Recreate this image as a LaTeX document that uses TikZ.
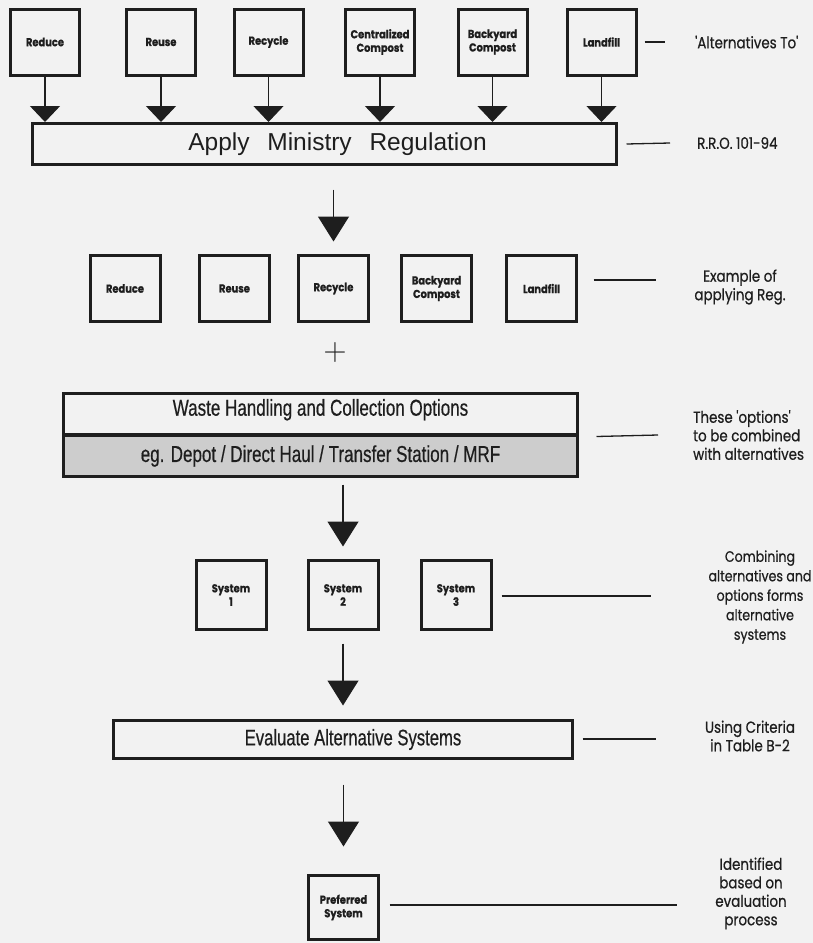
\documentclass[tikz,border=0pt]{standalone}
\usepackage{fontspec}
\setmainfont{Liberation Sans}
\newfontfamily\narrowfont[FakeStretch=0.74,FakeBold=0.5]{Liberation Sans}
\newfontfamily\labfont[FakeStretch=0.84,FakeBold=0.6]{Poppins}
\newfontfamily\boxfont[FakeStretch=0.86,FakeBold=0.8]{Poppins}
\usetikzlibrary{arrows.meta}
\definecolor{bg}{HTML}{F2F2F2}
\definecolor{ink}{HTML}{1E1E1E}
\definecolor{shade}{HTML}{CDCDCD}
\begin{document}
\begin{tikzpicture}[x=1pt,y=-1pt,
  box/.style={draw=ink,line width=3pt,inner sep=0pt,align=center,text=ink},
  sbox/.style={box,minimum width=69pt,minimum height=66pt,font=\boxfont\bfseries\fontsize{11.5}{13.5}\selectfont},
  lab/.style={text=ink,font=\labfont\fontsize{16}{18.5}\selectfont,inner sep=0pt,align=center},
  conn/.style={draw=ink,line width=1.3pt},
  arrsmall/.style={conn,-{Triangle[width=30pt,length=16pt]}},
  arrbig/.style={conn,-{Triangle[width=31pt,length=25pt]}}]
\fill[bg] (0,0) rectangle (813,943);
\useasboundingbox (0,0) rectangle (813,943);

% top row
\node[sbox] (t1) at (45,42) {Reduce};
\node[sbox] (t2) at (161,42) {Reuse};
\node[sbox] (t3) at (268.5,42) {Recycle};
\node[sbox] (t4) at (380,42) {Centralized\\Compost};
\node[sbox] (t5) at (492.5,42) {Backyard\\Compost};
\node[sbox] (t6) at (601.5,42) {Landfill};

\node[box,minimum width=584pt,minimum height=41pt,font=\fontsize{24.5}{28}\selectfont] (apply) at (324.5,144) {\hspace*{26pt}Apply\hspace{11pt} Ministry\hspace{11pt} Regulation};

\foreach \n in {t1,t2,t3,t4,t5,t6}
  \draw[arrsmall] (\n.south) -- (\n.south |- apply.north);

% second row
\node[sbox,minimum width=70pt] (r1) at (125,288.5) {Reduce};
\node[sbox,minimum width=70pt] (r2) at (234.5,288.5) {Reuse};
\node[sbox,minimum width=70pt] (r3) at (333.5,288.5) {Recycle};
\node[sbox,minimum width=70pt] (r4) at (436.5,288.5) {Backyard\\Compost};
\node[sbox,minimum width=70pt] (r5) at (541.5,288.5) {Landfill};

\draw[arrbig,shorten <=23.5pt,shorten >=12.5pt] (apply.south -| r3.north) -- (r3.north);

\node[text=ink,inner sep=0pt,font=\sffamily\fontsize{32}{32}\selectfont] (plus) at (335,353) {+};

% waste handling
\node[box,minimum width=514pt,minimum height=40.5pt,font=\narrowfont\fontsize{23}{27}\selectfont] (wtop) at (320.5,413.75) {\raisebox{4pt}[\height][\depth]{Waste Handling and Collection Options}};
\node[box,fill=shade,minimum width=514pt,minimum height=41pt,font=\narrowfont\fontsize{23}{27}\selectfont] (wbot) at (320.5,456) {eg. Depot / Direct Haul / Transfer Station / MRF};

% systems
\node[sbox,minimum width=70pt,minimum height=69pt] (s1) at (231,595) {System\\1};
\node[sbox,minimum width=70pt,minimum height=69pt] (s2) at (343,595) {System\\2};
\node[sbox,minimum width=70pt,minimum height=69pt] (s3) at (456,595) {System\\3};

\draw[arrbig,shorten <=6.5pt,shorten >=12.5pt] (wbot.south -| s2.north) -- (s2.north);

\node[box,minimum width=459pt,minimum height=38pt,font=\narrowfont\fontsize{22.5}{26}\selectfont] (eval) at (343,739.5) {\hspace*{20pt}Evaluate Alternative Systems};

\draw[arrbig,shorten <=12.5pt,shorten >=13.5pt] (s2.south) -- (eval.north -| s2.south);

\node[sbox,minimum width=70pt,minimum height=64pt] (pref) at (343.5,907.5) {Preferred\\System};

\draw[arrbig,shorten <=24.5pt,shorten >=27.5pt] (eval.south -| pref.north) -- (pref.north);

% right-hand labels
\node[lab,anchor=west] (altto) at (695,42) {'Alternatives To'};
\node[lab,anchor=west] (rro) at (697,143) {R.R.O. 101-94};
\node[lab] (exlab) at (740,287) {Example of\\applying Reg.};
\node[lab,anchor=west,align=left] (optlab) at (693,435) {These 'options'\\to be combined\\with alternatives};
\node[lab,font=\labfont\fontsize{15}{19.5}\selectfont] (comblab) at (760,597) {Combining\\alternatives and\\options forms\\alternative\\systems};
\node[lab] (critlab) at (750,736) {Using Criteria\\in Table B-2};
\node[lab] (idlab) at (751,893.5) {Identified\\based on\\evaluation\\process};

\draw[conn] ([xshift=7pt]t6.east) -- ([xshift=-30pt]altto.west);
\draw[conn] ([xshift=8.5pt]apply.east) -- ([xshift=-27pt]rro.west);
\draw[conn] ([xshift=15.5pt,yshift=8.5pt]r5.east) -- ++(62,0);
\draw[conn] ([xshift=17.5pt,yshift=-1pt]wtop.south east) -- ([xshift=-35pt]optlab.west);
\draw[conn] ([xshift=9pt,yshift=-1pt]s3.east) -- ++(149,0);
\draw[conn] ([xshift=8.5pt,yshift=0.5pt]eval.east) -- ++(73,0);
\draw[conn] ([xshift=9.5pt,yshift=2.5pt]pref.east) -- ++(287,0);
\end{tikzpicture}
\end{document}
